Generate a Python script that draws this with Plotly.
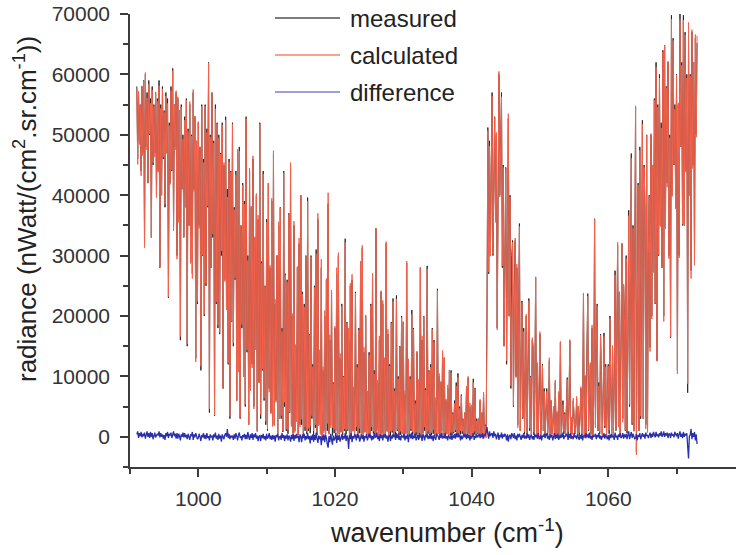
import numpy as np
import plotly.graph_objects as go

# Spectral grid (cm-1): 8 samples per cm-1 from 991 to 1073
wavenumber_start = 991.0
wavenumber_step = 0.125

# Measured radiance, thousands of nWatt/(cm2.sr.cm-1); one row = 1 cm-1
measured_k = [
    58, 46, 57, 49, 55, 44, 58, 47,          # 991
    59, 32, 60, 48, 57, 42, 59, 50,          # 992
    56, 33, 58, 45, 55, 47, 57, 40,          # 993
    56, 44, 59, 28, 55, 40, 58, 46,          # 994
    54, 38, 57, 47, 56, 23, 52, 42,          # 995
    58, 44, 61, 35, 55, 48, 57, 30,          # 996
    56, 36, 54, 16, 55, 41, 50, 33,          # 997
    53, 38, 56, 15, 51, 35, 55, 29,          # 998
    50, 27, 57, 41, 53, 13, 49, 22,          # 999
    52, 35, 48, 11, 55, 30, 46, 20,          # 1000
    55, 25, 51, 38, 62, 4, 50, 28,           # 1001
    57, 33, 49, 3.5, 55, 22, 52, 18,         # 1002
    50, 17, 47, 30, 52, 8, 45, 26,           # 1003
    53, 21, 41, 12, 46, 3, 44, 19,           # 1004
    52, 15, 38, 26, 44, 6, 47, 11,           # 1005
    48, 3, 35, 18, 42, 10, 39, 5,            # 1006
    53, 14, 30, 2, 44, 8, 38, 12,            # 1007
    46, 5, 33, 15, 40, 1, 36, 9,             # 1008
    52, 3, 29, 11, 44, 6, 25, 2,             # 1009
    36, 1, 42, 8, 28, 4, 39, 2,              # 1010
    47, 2, 22, 6, 30, 0.5, 35, 3,            # 1011
    38, 3, 18, 0.8, 44, 5, 27, 1,            # 1012
    26, 0.5, 37, 4, 44.6, 2, 20, 0.6,        # 1013
    35, 1, 15, 3, 28, 0.3, 32, 2,            # 1014
    40, 2, 24, 0.4, 22, 1, 30, 0.5,          # 1015
    39.6, 1, 17, 0.6, 30, 3, 12, 0.2,        # 1016
    25, 1.5, 31, 0.3, 36, 2, 14, 0.5,        # 1017
    28, 0.3, 11, 1, 20, 0.4, 26, 1,          # 1018
    38.6, 0.5, 16, 2, 24, 0.2, 9, 0.6,       # 1019
    18, 1, 27, 0.3, 30, 0.5, 13, 0.8,        # 1020
    22, 0.2, 10, 1, 32.8, 0.4, 19, 1,        # 1021
    16, 0.5, 25, 0.3, 26, 1, 8, 0.3,         # 1022
    24, 1, 12, 0.2, 18, 0.6, 29, 0.2,        # 1023
    31.3, 0.5, 14, 0.8, 20, 1, 7, 0.4,       # 1024
    14, 0.3, 22, 1, 27, 0.5, 11, 0.3,        # 1025
    34.5, 1, 9, 0.4, 16, 0.2, 24, 0.6,       # 1026
    22, 0.5, 13, 0.3, 32, 1, 17, 0.2,        # 1027
    12, 0.2, 19, 0.7, 22.9, 0.5, 8, 0.3,     # 1028
    23.4, 1, 10, 0.2, 15, 0.3, 20, 0.5,      # 1029
    19, 0.2, 7, 0.6, 28.8, 0.5, 12, 0.3,     # 1030
    10, 1, 21, 0.4, 18, 0.3, 6, 0.2,         # 1031
    14, 0.5, 9, 0.3, 28, 0.2, 16, 0.6,       # 1032
    20, 1, 8, 0.3, 28.3, 0.5, 11, 0.2,       # 1033
    12, 0.3, 18, 0.5, 16, 0.2, 6, 0.4,       # 1034
    24.5, 0.5, 10, 0.3, 9, 1, 14, 0.2,       # 1035
    13, 0.3, 6, 0.5, 8, 0.5, 11, 0.3,        # 1036
    11, 0.2, 4, 0.6, 6, 0.8, 9, 0.2,         # 1037
    10.5, 0.3, 5, 0.4, 7, 0.5, 3, 0.3,       # 1038
    4, 0.2, 8, 0.5, 9.8, 0.5, 5, 0.2,        # 1039
    5, 0.3, 9.6, 0.4, 8.1, 0.2, 3, 0.5,      # 1040
    3, 0.5, 6, 0.2, 4, 0.3, 7.1, 0.4,        # 1041
    2, 0.6, 20, 51.2, 27, 49, 30, 51,        # 1042
    57, 30, 42, 53, 36, 50, 18, 46,          # 1043
    60, 40, 50, 57, 28, 45, 15, 38,          # 1044
    44.6, 12, 35, 52.7, 20, 40, 8, 30,       # 1045
    32.5, 5, 25, 32.5, 10, 28, 2, 20,        # 1046
    35.3, 1, 15, 22.5, 3, 18, 0.5, 12,       # 1047
    20, 0.5, 14, 22.9, 1, 10, 0.3, 16,       # 1048
    15, 0.3, 8, 26.4, 0.5, 12, 0.2, 6,       # 1049
    17, 0.2, 5, 12, 1, 8, 0.3, 4,            # 1050
    8, 0.3, 3, 12.6, 0.2, 6, 0.5, 2,         # 1051
    5, 0.5, 9, 0.3, 4, 0.2, 7, 0.4,          # 1052
    15.6, 0.2, 3, 6, 0.5, 4, 0.3, 8,         # 1053
    9.8, 0.3, 5, 15.9, 0.2, 3, 0.5, 6,       # 1054
    4, 0.5, 2, 6.3, 0.3, 5, 0.2, 3,          # 1055
    8, 0.2, 4, 23.7, 0.5, 10, 0.3, 14,       # 1056
    23.7, 1, 8, 12, 0.5, 18, 0.3, 6,         # 1057
    36.1, 2, 14, 22, 1, 9, 0.5, 17,          # 1058
    10, 0.5, 6, 17.2, 1.5, 12, 0.3, 5,       # 1059
    12, 0.5, 20, 8, 1, 15, 0.4, 9,           # 1060
    27.5, 1, 18, 31.7, 2, 24, 0.5, 12,       # 1061
    32, 3, 25, 20, 1, 30, 0.6, 16,           # 1062
    37.5, 5, 28, 46.9, 2, 35, 1, 22,         # 1063
    54.6, -2.5, 30, 42, 1, 48, 3, 25,        # 1064
    52.4, 3, 45, 38, 2, 50, 1, 30,           # 1065
    40, 14.8, 50, 20, 45, 28, 56, 22,        # 1066
    62, 12.6, 55, 30, 60, 35, 52, 28,        # 1067
    64, 20, 64.8, 35, 58, 42, 62, 30,        # 1068
    50, 16.4, 69.8, 40, 66, 45, 55, 38,      # 1069
    60, 11, 55, 30, 70, 48, 62, 35,          # 1070
    69.8, 35, 67, 44, 60, 7.3, 65, 40,       # 1071
    60, 27.5, 67, 45, 62, 29.2, 66, 50,      # 1072
    65.2,                                    # 1073
]

# Difference (measured - calculated), thousands of nWatt/(cm2.sr.cm-1)
difference_k = [
    0.4, 0.9, -0.2, 0.6, 0.1, 0.8, -0.1, 0.5,      # 991
    0.1, 0.7, -0.3, 0.5, 0.9, 0.0, 0.6, -0.2,      # 992
    0.8, 0.0, 0.6, -0.4, 0.3, 0.7, -0.1, 0.4,      # 993
    0.5, 0.2, 0.9, -0.1, 0.6, 0.0, 0.4, -0.3,      # 994
    0.3, -0.5, 0.6, 0.1, 0.8, -0.2, 0.5, 0.2,      # 995
    0.7, -0.2, 0.4, 0.9, 0.1, 0.5, -0.3, 0.6,      # 996
    -0.3, 0.5, 0.1, -0.6, 0.4, 0.0, 0.7, -0.1,     # 997
    0.6, -0.1, 0.3, -0.4, 0.5, 0.1, -0.5, 0.3,     # 998
    0.2, 0.8, -0.5, 0.4, -0.1, 0.6, 0.0, -0.4,     # 999
    -0.2, 0.5, 0.0, -0.7, 0.3, -0.1, 0.6, -0.3,    # 1000
    0.3, -0.4, 0.6, -0.2, 0.1, -0.6, 0.4, 0.0,     # 1001
    0.1, -0.6, 0.4, -0.1, 0.7, -0.3, 0.2, -0.5,    # 1002
    0.5, -0.3, 0.2, -0.8, 0.4, 0.0, -0.4, 0.3,     # 1003
    0.6, 0.0, 1.3, -0.2, 0.5, -0.4, 0.2, -0.1,     # 1004
    0.2, -0.5, 0.4, -0.3, 0.6, 0.1, -0.6, 0.3,     # 1005
    0.7, -0.2, 0.1, -0.6, 0.3, -0.1, 0.5, -0.4,    # 1006
    0.3, -0.4, 0.8, 0.0, -0.5, 0.4, -0.2, 0.6,     # 1007
    -0.5, 0.4, -0.1, 0.6, -0.3, 0.2, -0.7, 0.1,    # 1008
    0.2, -0.7, 0.3, -0.2, 0.5, -0.4, 0.1, -0.6,    # 1009
    0.5, -0.3, 0.0, 0.6, -0.4, 0.2, -0.5, 0.3,     # 1010
    -0.4, 0.2, -0.8, 0.3, -0.1, 0.5, -0.6, 0.0,    # 1011
    0.1, -0.5, 0.6, -0.2, 0.3, -0.7, 0.2, -0.3,    # 1012
    0.4, -0.6, 0.2, -0.1, -0.8, 0.3, -0.4, 0.5,    # 1013
    -0.7, 0.3, -0.3, 0.5, -0.2, 0.1, -0.9, 0.4,    # 1014
    0.0, -0.9, 0.4, -0.2, 0.5, -0.6, 0.1, -0.4,    # 1015
    0.6, -0.4, 0.1, -1.1, 0.2, -0.5, 0.4, -0.8,    # 1016
    0.3, -0.5, 0.7, -0.3, -1.0, 0.2, -0.4, 0.1,    # 1017
    -1.4, 0.2, -0.6, 0.4, -0.9, 0.3, -0.2, -1.2,   # 1018
    -1.8, 0.1, -0.9, 0.5, -0.3, -1.3, 0.2, -0.6,   # 1019
    -0.3, 0.6, -1.0, 0.2, -0.5, 0.3, -0.8, 0.1,    # 1020
    0.4, -0.5, 0.1, -0.3, 0.6, -0.7, 0.2, -0.2,    # 1021
    -2.0, 0.3, -0.4, 0.6, -0.9, 0.1, -0.3, 0.4,    # 1022
    0.2, -0.6, 0.5, -0.2, 0.3, -0.8, 0.0, 0.4,     # 1023
    -0.4, 0.3, -0.8, 0.1, -0.2, 0.5, -0.6, 0.2,    # 1024
    0.5, -0.2, 0.3, -0.6, 0.1, -0.4, 0.6, -0.1,    # 1025
    0.0, 0.7, -0.4, 0.2, -0.7, 0.4, -0.2, 0.3,     # 1026
    -0.6, 0.4, -0.1, 0.5, -0.3, 0.2, -0.8, 0.1,    # 1027
    0.3, -0.7, 0.2, -0.3, 0.5, -0.1, 0.4, -0.5,    # 1028
    0.6, -0.2, 0.4, -0.5, 0.1, -0.6, 0.3, 0.0,     # 1029
    -0.1, 0.5, -0.6, 0.2, -0.3, 0.4, -0.9, 0.3,    # 1030
    0.4, -0.3, 0.7, -0.4, 0.2, -0.2, 0.5, -0.6,    # 1031
    -0.2, 0.3, -0.5, 0.6, -0.1, 0.2, -0.7, 0.4,    # 1032
    0.1, -0.6, 0.3, -0.1, 0.5, -0.4, 0.2, -0.3,    # 1033
    0.5, -0.4, 0.2, -0.7, 0.3, 0.0, -0.5, 0.4,     # 1034
    0.3, 0.0, -0.5, 0.4, -0.2, 0.6, -0.3, 0.1,     # 1035
    -0.2, 0.6, -0.3, 0.1, -0.6, 0.3, 0.0, -0.4,    # 1036
    0.4, -0.5, 0.2, -0.2, 0.5, -0.3, 0.6, -0.1,    # 1037
    0.6, -0.1, 0.3, -0.6, 0.2, -0.4, 0.1, 0.5,     # 1038
    0.0, 0.4, -0.4, 0.5, -0.2, 0.3, -0.6, 0.2,     # 1039
    -0.3, 0.2, 0.6, -0.5, 0.1, -0.2, 0.4, -0.1,    # 1040
    0.1, 0.5, -0.2, 0.4, 0.0, 0.6, -0.3, 0.3,      # 1041
    0.2, 0.8, 1.6, 0.5, -0.3, 0.9, 0.1, 0.4,       # 1042
    0.6, -0.2, 0.9, 0.1, 0.5, -0.4, 0.3, 0.7,      # 1043
    -0.5, 0.3, -0.1, 0.7, -0.3, 0.4, 0.0, 0.5,     # 1044
    0.2, -0.6, 0.4, -0.8, 0.1, 0.3, -0.4, 0.6,     # 1045
    0.3, -0.2, 0.6, -0.4, 0.2, -0.6, 0.5, -0.1,    # 1046
    0.5, 0.0, -0.5, 0.3, -0.2, 0.6, -0.3, 0.2,     # 1047
    -0.3, 0.6, -0.2, 0.4, -0.5, 0.1, 0.3, -0.4,    # 1048
    0.1, -0.5, 0.5, -0.1, 0.3, -0.3, 0.6, 0.0,     # 1049
    -0.4, 0.3, -0.6, 0.2, 0.0, 0.5, -0.2, 0.4,     # 1050
    0.5, -0.3, 0.2, -0.5, 0.4, -0.1, 0.3, -0.6,    # 1051
    0.0, 0.6, -0.4, 0.3, -0.2, 0.5, -0.5, 0.2,     # 1052
    -0.2, 0.4, -0.1, 0.7, -0.4, 0.2, 0.0, 0.5,     # 1053
    0.3, -0.5, 0.5, -0.2, 0.6, -0.3, 0.1, -0.4,    # 1054
    0.6, -0.1, 0.2, -0.4, 0.4, 0.0, -0.5, 0.3,     # 1055
    -0.3, 0.5, -0.6, 0.1, 0.3, -0.2, 0.6, -0.1,    # 1056
    0.4, -0.2, 0.7, -0.3, 0.2, -0.5, 0.3, 0.0,     # 1057
    0.1, 0.5, -0.4, 0.3, -0.1, 0.6, -0.3, 0.2,     # 1058
    -0.5, 0.2, -0.1, 0.6, -0.3, 0.4, 0.0, -0.4,    # 1059
    0.3, -0.6, 0.4, -0.2, 0.5, -0.1, 0.2, -0.5,    # 1060
    0.7, -0.1, 0.2, -0.5, 0.4, 0.0, 0.6, -0.2,     # 1061
    0.0, 0.6, -0.3, 0.4, -0.1, 0.5, -0.4, 0.3,     # 1062
    0.9, -0.4, 0.2, 0.8, -0.2, 0.5, 0.1, -0.3,     # 1063
    -0.2, 0.5, -0.6, 0.3, 0.0, 0.6, -0.4, 0.2,     # 1064
    0.6, 0.0, 0.4, -0.3, 0.7, 0.1, 0.3, -0.2,      # 1065
    0.2, 0.7, -0.2, 0.5, 0.0, 0.8, 0.3, -0.1,      # 1066
    0.8, 0.1, 0.4, -0.1, 0.6, 0.2, 0.9, 0.0,       # 1067
    0.3, 0.9, 0.0, 0.6, 0.2, 0.7, -0.2, 0.5,       # 1068
    0.5, -0.2, 0.7, 0.2, 0.4, -0.1, 0.8, 0.3,      # 1069
    0.1, 0.6, -0.3, 0.4, 0.9, 0.0, 0.5, -0.2,      # 1070
    0.8, 0.0, 0.5, 0.2, 0.6, -1.5, -3.6, 0.1,      # 1071
    0.3, 1.3, -0.4, 0.6, 0.0, 0.8, -0.6, 0.4,      # 1072
    -1.2,                                          # 1073
]

series_names = ["measured", "calculated", "difference"]
series_colors = ["#2a2a2a", "#f2624c", "#2a30ac"]
legend_colors = ["#505050", "#f4836f", "#7c7cd4"]

x_tick_values = [1000, 1020, 1040, 1060]
y_tick_values = [0, 10000, 20000, 30000, 40000, 50000, 60000, 70000]

assert len(measured_k) == len(difference_k)
n = len(measured_k)
wavenumber = wavenumber_start + wavenumber_step * np.arange(n)
measured = np.array(measured_k) * 1000.0
difference = np.array(difference_k) * 1000.0
calculated = measured - difference

FONT = "Liberation Sans, Arial, Helvetica, sans-serif"
AX = "#3c3c3c"

fig = go.Figure()
fig.add_trace(go.Scatter(x=wavenumber, y=measured, mode="lines", name=series_names[0],
                         line=dict(color=series_colors[0], width=1), showlegend=False))
fig.add_trace(go.Scatter(x=wavenumber, y=calculated, mode="lines", name=series_names[1],
                         line=dict(color=series_colors[1], width=1), showlegend=False))
fig.add_trace(go.Scatter(x=wavenumber, y=difference, mode="lines", name=series_names[2],
                         line=dict(color=series_colors[2], width=1.3), showlegend=False))

# plot area: x 130..736 px, y 14..467 px
def px(x):
    return (x - 130) / 606.0

def py(y):
    return (467 - y) / 453.0

shapes = []
annotations = []
for i, (name, col) in enumerate(zip(series_names, legend_colors)):
    yy = py(18 + 37 * i)
    shapes.append(dict(type="line", xref="paper", yref="paper", x0=px(275), x1=px(340),
                       y0=yy, y1=yy, line=dict(color=col, width=1.5)))
    annotations.append(dict(text=name, xref="paper", yref="paper", x=px(348), y=yy,
                            xanchor="left", yanchor="middle", showarrow=False,
                            font=dict(family=FONT, size=24, color="#222")))

annotations.append(dict(text="wavenumber (cm<sup>-1</sup>)", xref="paper", yref="paper",
                        x=px(447), y=py(531), xanchor="center", yanchor="middle",
                        showarrow=False, font=dict(family=FONT, size=27, color="#222")))
annotations.append(dict(text="radiance (nWatt/(cm<sup>2</sup>.sr.cm<sup>-1</sup>))",
                        xref="paper", yref="paper", x=px(25), y=py(209), textangle=-90,
                        xanchor="center", yanchor="middle", showarrow=False,
                        font=dict(family=FONT, size=26, color="#222")))

fig.update_layout(
    width=736, height=555,
    margin=dict(l=130, r=0, t=14, b=88),
    paper_bgcolor="white", plot_bgcolor="white",
    showlegend=False,
    shapes=shapes, annotations=annotations,
    font=dict(family=FONT, size=20, color="#333"),
)
fig.update_xaxes(range=[990, 1078.7], tickvals=x_tick_values, ticks="outside",
                 ticklen=8, tickwidth=1.5, tickcolor=AX, showline=True, linecolor=AX,
                 linewidth=1.5, showgrid=False, zeroline=False,
                 tickfont=dict(family=FONT, size=21, color="#333"), ticklabelstandoff=4,
                 minor=dict(tickvals=[990, 1010, 1030, 1050, 1070], ticks="outside",
                            ticklen=5, tickwidth=1.5, tickcolor=AX, showgrid=False))
fig.update_yaxes(range=[-5000, 70000], tickvals=y_tick_values, tickformat="d",
                 ticks="outside", ticklen=8, tickwidth=1.5, tickcolor=AX, showline=True,
                 linecolor=AX, linewidth=1.5, showgrid=False, zeroline=False,
                 tickfont=dict(family=FONT, size=21, color="#333"), ticklabelstandoff=6,
                 minor=dict(tickvals=[-5000, 5000, 15000, 25000, 35000, 45000, 55000, 65000],
                            ticks="outside", ticklen=5, tickwidth=1.5, tickcolor=AX,
                            showgrid=False))

fig.write_html("out.html")
